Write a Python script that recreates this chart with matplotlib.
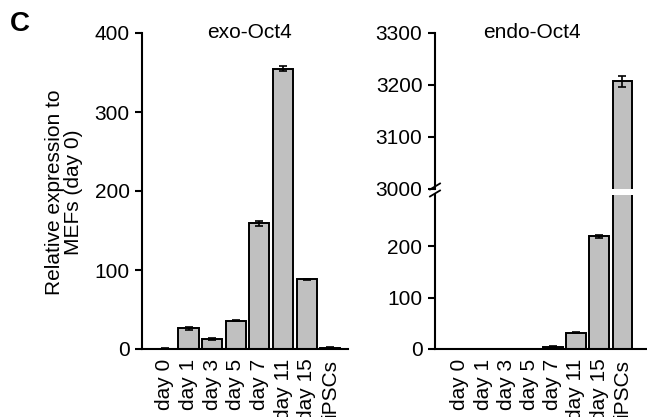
import matplotlib
matplotlib.use("Agg")
import matplotlib.pyplot as plt
from matplotlib.lines import Line2D
import numpy as np

plt.rcParams['font.family'] = ['Liberation Sans', 'DejaVu Sans']

categories = ["day 0", "day 1", "day 3", "day 5", "day 7", "day 11", "day 15", "iPSCs"]
exo_values = [0.5, 26, 13, 36, 159, 355, 88, 1.5]
exo_errors = [0.3, 1.5, 1.0, 1.0, 3.0, 3.0, 1.0, 0.5]
endo_values = [0.4, 0.4, 0.4, 0.4, 4, 32, 219, 3207]
endo_errors = [0.2, 0.2, 0.2, 0.2, 1.0, 0.5, 3.0, 10.0]

exo_ticks = [0, 100, 200, 300, 400]
endo_low_ticks = [0, 100, 200]
endo_high_ticks = [3000, 3100, 3200, 3300]

W, H = 647, 417
fig = plt.figure(figsize=(W / 100, H / 100), dpi=100)

def fx(px):
    return px / W

def fy(py):
    return (H - py) / H

bar_kw = dict(width=0.85, color="#c0c0c0", edgecolor="black", linewidth=1.4,
              error_kw=dict(elinewidth=1.2, capsize=3, capthick=1.2, ecolor="black"))
FS = 15

x = np.arange(len(categories))

def style(ax, bottom=True):
    for s in ("top", "right"):
        ax.spines[s].set_visible(False)
    ax.spines["left"].set_linewidth(1.5)
    ax.spines["bottom"].set_linewidth(1.5)
    ax.spines["bottom"].set_visible(bottom)
    ax.tick_params(axis="y", direction="out", length=5, width=1.5, labelsize=FS, pad=4)
    ax.tick_params(axis="x", length=0, labelsize=FS, pad=7)

# exo-Oct4 panel
ax1 = fig.add_axes([fx(142), fy(349), fx(348 - 142), (349 - 33) / H])
ax1.bar(x, exo_values, yerr=exo_errors, **bar_kw)
ax1.set_xlim(-0.97, 7.75)
ax1.set_ylim(0, 400)
ax1.set_yticks(exo_ticks)
ax1.set_xticks(x)
ax1.set_xticklabels(categories, rotation=90, va="top", ha="center")
style(ax1)
ax1.text(3.6, 400, "exo-Oct4", ha="center", va="center", fontsize=FS)
fig.text(fx(64), fy(192), "Relative expression to\nMEFs (day 0)", rotation=90,
         ha="center", va="center", multialignment="center", fontsize=FS,
         linespacing=1.0)

# endo-Oct4 panel, broken y-axis
ax_lo = fig.add_axes([fx(435), fy(349), fx(647 - 435), (349 - 194.5) / H])
ax_hi = fig.add_axes([fx(435), fy(189), fx(647 - 435), (189 - 33) / H])
for ax in (ax_lo, ax_hi):
    ax.bar(x, endo_values, yerr=endo_errors, **bar_kw)
    ax.set_xlim(-1.07, 8.06)
ax_lo.set_ylim(0, 300)
ax_hi.set_ylim(3000, 3300)
ax_lo.set_yticks(endo_low_ticks)
ax_hi.set_yticks(endo_high_ticks)
ax_lo.set_xticks(x)
ax_lo.set_xticklabels(categories, rotation=90, va="top", ha="center")
ax_hi.set_xticks([])
style(ax_lo)
style(ax_hi, bottom=False)
ax_hi.text(3.12, 3300, "endo-Oct4", ha="center", va="center", fontsize=FS)

# break marks on the y-axis
for py in (186.5, 193.5):
    fig.add_artist(Line2D([fx(430), fx(440)], [fy(py + 3), fy(py - 3)],
                          color="black", linewidth=1.3))

fig.text(fx(10), fy(24), "C", fontsize=20, fontweight="bold", ha="left", va="center")

fig.savefig("out.png", dpi=100)
